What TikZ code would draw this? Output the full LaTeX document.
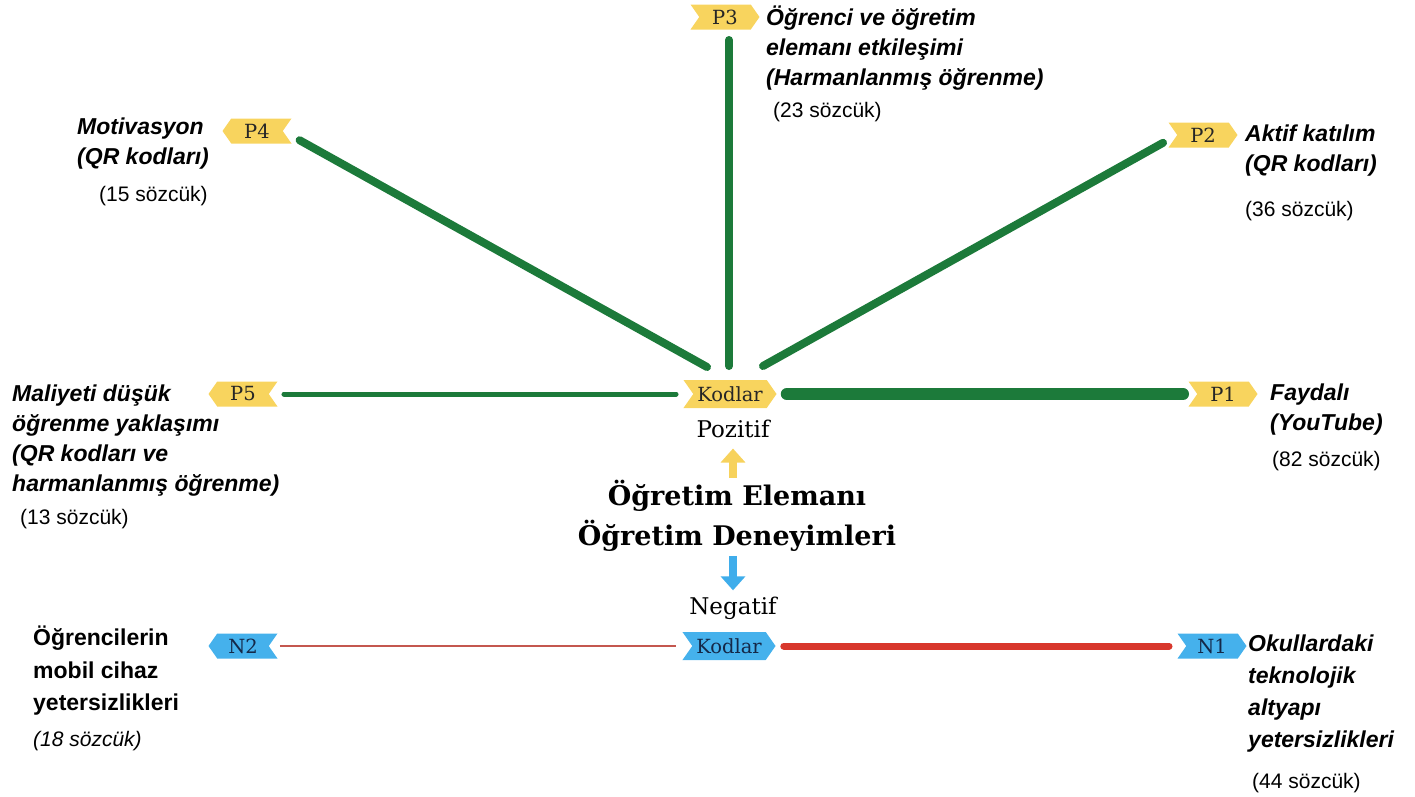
\documentclass[tikz,border=0pt]{standalone}
\usepackage{fontspec}
\setmainfont{DejaVu Serif}
\setsansfont{Liberation Sans}
\usetikzlibrary{shapes.symbols,arrows.meta}
\definecolor{tagY}{HTML}{F8D45E}
\definecolor{tagB}{HTML}{45B1EC}
\definecolor{navy}{HTML}{142848}
\definecolor{gline}{HTML}{1C7A3A}
\definecolor{rline}{HTML}{D8372C}
\definecolor{rthin}{HTML}{C4574F}
\definecolor{yarr}{HTML}{F7D25C}
\definecolor{barr}{HTML}{3FADEB}
\begin{document}
\begin{tikzpicture}[x=1pt,y=-1pt,
  tagbase/.style={signal, signal pointer angle=110, inner xsep=4pt, inner ysep=1pt,
    minimum height=25pt, minimum width=69pt, font=\fontsize{19.5}{19.5}\selectfont},
  ytag/.style={tagbase, fill=tagY, text=black!85},
  btag/.style={tagbase, fill=tagB, text=navy},
  totag/.style={signal to=east, signal from=west},
  fromtag/.style={signal to=west, signal from=east},
  kod/.style={minimum width=91pt, minimum height=28pt},
  lab/.style={anchor=north west, inner sep=0pt, align=left,
    font=\sffamily\bfseries\itshape\fontsize{23}{30}\selectfont},
  labn/.style={lab, font=\sffamily\bfseries\fontsize{23}{32.5}\selectfont},
  cnt/.style={anchor=base west, inner sep=0pt, font=\sffamily\fontsize{21}{21}\selectfont},
  gl/.style={draw=gline, line cap=round},
  serifl/.style={inner sep=0pt, anchor=base, font=\fontsize{23}{23}\selectfont},
  blockarrow/.style={line width=8pt, -{Triangle[width=24pt,length=14pt]}}
]
\useasboundingbox (0,0) rectangle (1415,796);

% tags
\node[ytag, totag, kod] (kp) at (730,394) {Kodlar};
\node[ytag, totag] (p1) at (1223,394) {P1};
\node[ytag, fromtag] (p5) at (243,394) {P5};
\node[ytag, fromtag] (p4) at (257,131) {P4};
\node[ytag, totag] (p3) at (725,17) {P3};
\node[ytag, totag] (p2) at (1203,135) {P2};
\node[btag, fromtag] (n2) at (243,646) {N2};
\node[btag, totag, kod] (kn) at (729,646) {Kodlar};
\node[btag, totag] (n1) at (1212,646) {N1};

% free ends
\coordinate (c4) at (707,367);
\coordinate (c2) at (763,366);
\coordinate (c3) at (729,366);
\coordinate (c3t) at (729,40);

% connectors
\draw[gl, line width=12pt, shorten <=10pt, shorten >=14pt] (kp.east) -- (p1.west);
\draw[gl, line width=5pt, shorten <=15pt, shorten >=17pt] (p5.east) -- (kp.west);
\draw[gl, line width=8pt, shorten <=19pt] (p4.east) -- (c4);
\draw[gl, line width=8pt] (c3t) -- (c3);
\draw[gl, line width=8pt, shorten <=16pt] (p2.west) -- (c2);
\draw[draw=rline, line width=7pt, line cap=round, shorten <=8pt, shorten >=17pt] (kn.east) -- (n1.west);
\draw[draw=rthin, line width=1.5pt, shorten <=11pt, shorten >=16pt] (n2.east) -- (kn.west);

% centre texts
\node[serifl] (pos) at (733,437) {Pozitif};
\node[inner sep=0pt, anchor=north, align=center,
  font=\bfseries\fontsize{27}{40}\selectfont] (title) at (737,480)
  {Öğretim Elemanı\\Öğretim Deneyimleri};
\node[serifl] (neg) at (733,614) {Negatif};
\draw[blockarrow, draw=yarr, fill=yarr, shorten <=2pt, shorten >=11pt] (title.north -| pos.south) -- (pos.south);
\draw[blockarrow, draw=barr, fill=barr, shorten <=4pt, shorten >=6pt] (title.south -| neg.north) -- (neg.north);

% labels
\node[lab] (l3) at (766,6) {Öğrenci ve öğretim\\elemanı etkileşimi\\(Harmanlanmış öğrenme)};
\node[cnt] (w3) at (773,117) {(23 sözcük)};
\node[lab] (l4) at (77,115) {\vphantom{Ö}Motivasyon\\(QR kodları)};
\node[cnt] (w4) at (99,201) {(15 sözcük)};
\node[lab] (l2) at (1245,122) {\vphantom{Ö}Aktif katılım\\(QR kodları)};
\node[cnt] (w2) at (1245,216) {(36 sözcük)};
\node[lab] (l1) at (1270,381) {\vphantom{Ö}Faydalı\\(YouTube)};
\node[cnt] (w1) at (1272,466) {(82 sözcük)};
\node[lab] (l5) at (12,382) {\vphantom{Ö}Maliyeti düşük\\öğrenme yaklaşımı\\(QR kodları ve\\harmanlanmış öğrenme)};
\node[cnt] (w5) at (20,524) {(13 sözcük)};
\node[labn] (ln2) at (33,626) {Öğrencilerin\\mobil cihaz\\yetersizlikleri};
\node[cnt, font=\sffamily\itshape\fontsize{21}{21}\selectfont] (wn2) at (33,746) {(18 sözcük)};
\node[lab, font=\sffamily\bfseries\itshape\fontsize{23}{32}\selectfont] (ln1) at (1248,632) {\vphantom{Ö}Okullardaki\\teknolojik\\altyapı\\yetersizlikleri};
\node[cnt] (wn1) at (1252,788) {(44 sözcük)};
\end{tikzpicture}
\end{document}
